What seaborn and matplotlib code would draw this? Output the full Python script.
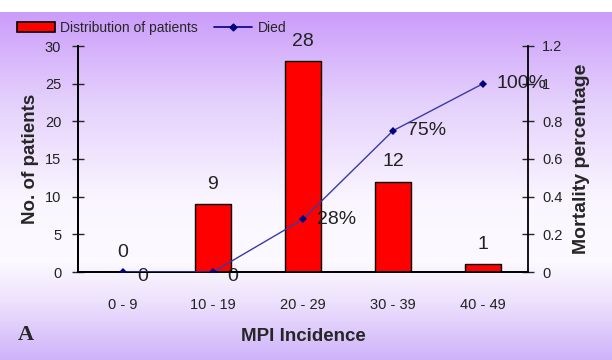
import numpy as np
import pandas as pd
import matplotlib
matplotlib.use("Agg")
import matplotlib.pyplot as plt
from matplotlib.ticker import FixedLocator, FuncFormatter, MultipleLocator
from matplotlib.patches import Patch
from matplotlib.lines import Line2D
import seaborn as sns

# ---- data ----
categories = ["0 - 9", "10 - 19", "20 - 29", "30 - 39", "40 - 49"]
patients = [0, 9, 28, 12, 1]
mortality = [0, 0, 0.28, 0.75, 1.0]
mortality_labels = ["0", "0", "28%", "75%", "100%"]

sns.set_style("white")
plt.rcParams["font.family"] = ["Liberation Sans", "DejaVu Sans"]

fig = plt.figure(figsize=(6.12, 3.6), dpi=100)

# gradient background
bg = fig.add_axes([0, 0, 1, 1], zorder=-10)
rows = np.arange(360)
ys = [0, 11.9, 12, 100, 200, 260, 300, 360]
r = [255, 255, 203, 228, 250, 252, 238, 206]
g = [255, 255, 156, 208, 246, 250, 226, 178]
b = [255, 255, 250, 252, 255, 255, 253, 250]
grad = np.stack([np.interp(rows, ys, r), np.interp(rows, ys, g), np.interp(rows, ys, b)], axis=1) / 255.0
grad = np.repeat(grad[:, None, :], 4, axis=1)
bg.imshow(grad, aspect="auto", extent=[0, 1, 0, 1], origin="upper")
bg.axis("off")

ax = fig.add_axes([78 / 612, 1 - 272 / 360, 450 / 612, 226 / 360])
ax.set_facecolor("none")
df = pd.DataFrame({"cat": categories, "patients": patients, "mort": mortality})
sns.barplot(data=df, x="cat", y="patients", ax=ax, color="#ff0000", edgecolor="black",
            linewidth=1.0, width=0.39, saturation=1, zorder=3)

ax2 = ax.twinx()
ax2.set_facecolor("none")
sns.pointplot(data=df, x="cat", y="mort", ax=ax2, color="#000080", markers="D",
              markersize=4, linewidth=0, zorder=5)
ax2.plot(range(len(categories)), mortality, color="#3a3aa8", lw=1.0, zorder=4)

for a in (ax, ax2):
    a.set_xlim(-0.5, 4.5)
ax.set_ylim(0, 30)
ax2.set_ylim(0, 1.2)

# x ticks: boundaries as major ticks, labels at centers via minor ticks
ax.xaxis.set_major_locator(FixedLocator(np.arange(-0.5, 5.0, 1.0)))
ax.set_xticklabels([""] * 6)
ax.xaxis.set_minor_locator(FixedLocator(np.arange(5)))
ax.set_xticklabels(categories, minor=True)
ax.tick_params(axis="x", which="major", direction="inout", length=8, width=1, color="black")
ax.tick_params(axis="x", which="minor", length=0, pad=19, labelsize=10.5, labelcolor="#222222")
ax2.tick_params(axis="x", which="both", length=0, labelbottom=False)

ax.yaxis.set_major_locator(MultipleLocator(5))
ax.tick_params(axis="y", direction="inout", length=8, width=1, labelsize=10.5, labelcolor="#222222", pad=8, left=True)
ax2.yaxis.set_major_locator(MultipleLocator(0.2))
ax2.yaxis.set_major_formatter(FuncFormatter(lambda v, p: "%g" % round(v, 2)))
ax2.tick_params(axis="y", direction="inout", length=8, width=1, labelsize=10.5, labelcolor="#222222", pad=6, right=True)

for a in (ax, ax2):
    a.spines["top"].set_visible(False)
    for s in ("left", "right", "bottom"):
        a.spines[s].set_color("black")
        a.spines[s].set_linewidth(1.3)
ax.spines["right"].set_visible(False)

ax.set_xlabel("MPI Incidence", fontsize=13.5, fontweight="bold", labelpad=11)
ax.set_ylabel("No. of patients", fontsize=13.5, fontweight="bold", labelpad=4)
ax2.set_ylabel("Mortality percentage", fontsize=14, fontweight="bold", labelpad=8)
ax2.set_xlabel("")

# bar value labels
for i, v in enumerate(patients):
    ax.annotate(str(v), (i, v), xytext=(0, 8), textcoords="offset points",
                ha="center", va="bottom", fontsize=14, color="#222222")
# line value labels
for i, (v, lab) in enumerate(zip(mortality, mortality_labels)):
    ax2.annotate(lab, (i, v), xytext=(10, -3 if v == 0 else 0), textcoords="offset points",
                 ha="left", va="center", fontsize=14, color="#222222", zorder=1)

# legend
handles = [Patch(facecolor="#ff0000", edgecolor="black", linewidth=1.2),
           Line2D([0], [0], color="#000080", lw=1.2, marker="D", markersize=3.5)]
fig.legend(handles, ["Distribution of patients", "Died"], loc="upper left",
           bbox_to_anchor=(17 / 612, 1 - 21 / 360), ncol=2, frameon=False,
           fontsize=10, handlelength=2.7, handleheight=0.75, handletextpad=0.4,
           columnspacing=1.2, borderaxespad=0, borderpad=0)

fig.text(18 / 612, 1 - 335 / 360, "A", fontsize=16, fontweight="bold",
         family=["Liberation Serif", "DejaVu Serif"], va="center", ha="left")

fig.savefig("out.png", dpi=100)
